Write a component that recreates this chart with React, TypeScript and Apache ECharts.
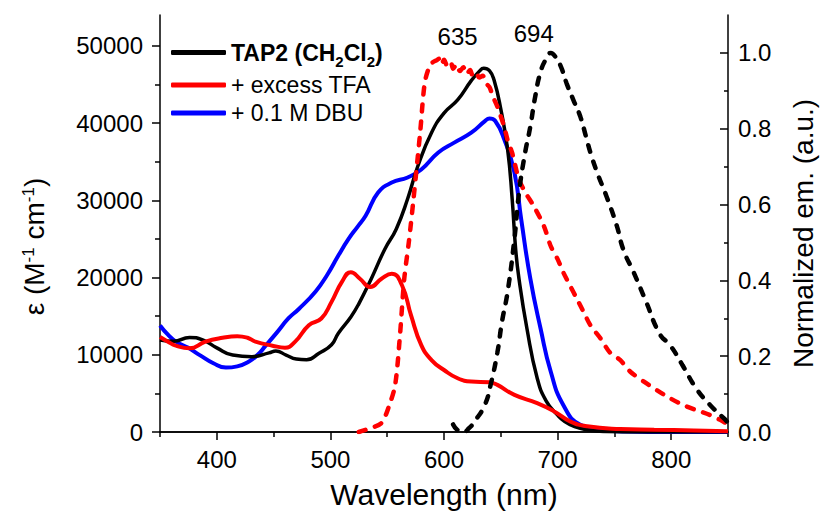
import React, { useEffect, useRef } from 'react';
import * as echarts from 'echarts';

// ---- tick values ----
const xTickLabels = [400, 500, 600, 700, 800];
const xMinorTicks = [350, 450, 550, 650, 750, 850];
const leftTickLabels = [0, 10000, 20000, 30000, 40000, 50000];
const leftMinorTicks = [5000, 15000, 25000, 35000, 45000];
const rightTickLabels = [0, 0.2, 0.4, 0.6, 0.8, 1.0];
const rightMinorTicks = [0.1, 0.3, 0.5, 0.7, 0.9];

// ---- absorption: TAP2 (CH2Cl2) ----
const tap2Wl = [350, 362, 376, 388, 400, 414, 431, 446, 452, 461, 470, 479, 490, 501, 507, 518, 525, 536, 548, 558, 568, 577, 589, 600, 612, 624, 631, 635, 640, 644, 650, 656, 660, 663, 666, 673, 682, 690, 700, 706, 715, 726, 740, 760, 850];
const tap2Eps = [11900, 11750, 12250, 11900, 10900, 9960, 9760, 10250, 10480, 9960, 9450, 9350, 10200, 11300, 12800, 14900, 16600, 19850, 23700, 26300, 30200, 34450, 38760, 41300, 43000, 45500, 46700, 47100, 46800, 45600, 41800, 36600, 30200, 23800, 19850, 13400, 7000, 4000, 2200, 1400, 700, 300, 50, 0, 0];

// ---- absorption: + excess TFA ----
const tfaWl = [350, 357, 364, 376, 390, 405, 418, 427, 434, 449, 460, 469, 481, 492, 501, 510, 518, 526, 535, 545, 554, 563, 571, 580, 589, 600, 612, 624, 640, 647, 662, 682, 697, 711, 726, 755, 785, 820, 850];
const tfaEps = [12300, 11700, 11180, 10830, 11700, 12200, 12400, 12200, 11700, 11180, 10920, 11700, 13830, 14700, 16850, 19400, 20700, 19850, 18780, 19850, 20500, 19000, 15100, 11250, 9320, 8030, 6960, 6530, 6450, 6100, 4800, 3740, 2670, 1380, 735, 390, 300, 200, 100];

// ---- absorption: + 0.1 M DBU ----
const dbuWl = [350, 357, 364, 375, 385, 397, 408, 418, 428, 436, 443, 453, 463, 472, 487, 497, 507, 516, 524, 531, 542, 554, 568, 580, 595, 609, 624, 636, 640, 645, 653, 662, 668, 676, 685, 694, 705, 720, 740, 760, 780, 850];
const dbuEps = [13800, 12600, 11700, 10900, 9960, 8900, 8340, 8500, 9100, 10000, 11180, 12900, 14700, 15900, 18200, 20300, 22850, 25000, 26600, 28000, 31000, 32300, 32960, 34000, 36200, 37470, 38760, 40260, 40600, 40300, 37900, 33600, 27500, 19850, 13400, 7800, 3500, 940, 300, 50, 0, 0];

// ---- normalized emission: TAP2 (dashed black) ----
const tap2EmWl = [608, 612, 617, 622, 627, 636, 641, 647, 651, 656, 662, 666, 671, 676, 680, 685, 690, 694, 698, 703, 708, 714, 720, 725, 729, 735, 743, 752, 758, 767, 778, 790, 799, 810, 822, 834, 846, 850];
const tap2Em = [0.02, 0.005, 0.0, 0.01, 0.028, 0.072, 0.124, 0.21, 0.29, 0.37, 0.51, 0.63, 0.73, 0.806, 0.88, 0.95, 0.985, 1.0, 0.99, 0.963, 0.919, 0.875, 0.832, 0.779, 0.736, 0.683, 0.622, 0.545, 0.48, 0.421, 0.343, 0.258, 0.229, 0.176, 0.115, 0.072, 0.037, 0.025];

// ---- normalized emission: + excess TFA (dashed red) ----
const tfaEmWl = [525, 535, 545, 552, 557, 561, 565, 569, 573, 579, 583, 587, 590, 593, 596, 598, 600, 603, 606, 608, 611, 614, 617, 620, 623, 625, 628, 631, 634, 637, 640, 643, 647, 653, 656, 660, 666, 672, 679, 688, 694, 700, 705, 711, 717, 723, 729, 738, 746, 755, 764, 776, 787, 799, 810, 822, 834, 843, 850];
const tfaEm = [0.0, 0.01, 0.024, 0.072, 0.124, 0.246, 0.404, 0.5, 0.61, 0.79, 0.92, 0.963, 0.975, 0.98, 0.985, 0.97, 0.982, 0.965, 0.975, 0.958, 0.97, 0.952, 0.962, 0.944, 0.955, 0.942, 0.95, 0.935, 0.94, 0.92, 0.91, 0.885, 0.858, 0.805, 0.77, 0.736, 0.666, 0.63, 0.596, 0.543, 0.49, 0.456, 0.421, 0.386, 0.351, 0.316, 0.281, 0.246, 0.21, 0.19, 0.159, 0.133, 0.111, 0.089, 0.072, 0.058, 0.045, 0.032, 0.02];

// ---- peak annotations ----
const peakLabels = ['635', '694'];
const peakLabelWl = [612, 679];
const peakLabelEps = [51200, 51600];

const legendNames = ['TAP2', '+ excess TFA', '+ 0.1 M DBU'];

const FONT = '"Liberation Sans", Arial, Helvetica, sans-serif';
const pair = (xs: number[], ys: number[]) => xs.map((x, i) => [x, ys[i]]);

export default function App() {
  const ref = useRef<HTMLDivElement>(null);

  useEffect(() => {
    document.body.style.margin = '0';
    const chart = echarts.init(ref.current!, null, { renderer: 'svg' });
    const axisLine = { show: true, lineStyle: { color: '#000', width: 1.5 } };
    const baseText = { color: '#000', fontFamily: FONT };

    const option: any = {
      animation: false,
      backgroundColor: '#fff',
      grid: { left: 160, right: 93, top: 15, bottom: 80, containLabel: false },
      legend: {
        data: legendNames,
        orient: 'vertical',
        left: 166,
        top: 36,
        itemWidth: 55,
        itemHeight: 5,
        itemGap: 5,
        icon: 'roundRect',
        selectedMode: false,
        formatter: (name: string) =>
          name === 'TAP2' ? '{b|TAP2 (CH}{s|2}{b|Cl}{s|2}{b|)}' : '{n|' + name + '}',
        textStyle: {
          ...baseText,
          fontSize: 23,
          rich: {
            b: { ...baseText, fontSize: 23, fontWeight: 'bold', lineHeight: 38 },
            s: { ...baseText, fontSize: 15, fontWeight: 'bold', padding: [17, 0, 0, 0] },
            n: { ...baseText, fontSize: 23, lineHeight: 24 },
          },
        },
      },
      xAxis: [
        {
          type: 'value', min: 350, max: 850, position: 'bottom',
          axisLine,
          axisTick: { show: true, customValues: xTickLabels, length: 8, lineStyle: { color: '#000', width: 1.5 } },
          axisLabel: { customValues: xTickLabels, ...baseText, fontSize: 24, margin: 15 },
          splitLine: { show: false },
          name: 'Wavelength (nm)', nameLocation: 'middle', nameGap: 47,
          nameTextStyle: { ...baseText, fontSize: 30 },
        },
        {
          type: 'value', min: 350, max: 850, position: 'bottom',
          axisLine: { show: false },
          axisTick: { show: true, customValues: xMinorTicks, length: 5, lineStyle: { color: '#000', width: 1.5 } },
          axisLabel: { show: false },
          splitLine: { show: false },
        },
        {
          type: 'value', min: 350, max: 850, position: 'top',
          axisLine,
          axisTick: { show: false },
          axisLabel: { show: false },
          splitLine: { show: false },
        },
      ],
      yAxis: [
        {
          type: 'value', min: 0, max: 54000, position: 'left',
          axisLine,
          axisTick: { show: true, customValues: leftTickLabels, length: 8, lineStyle: { color: '#000', width: 1.5 } },
          axisLabel: { customValues: leftTickLabels, ...baseText, fontSize: 24, margin: 17, formatter: (v: number) => String(v) },
          splitLine: { show: false },
          name: '{a|ε (M}{s|-1}{a| cm}{s|-1}{a|)}',
          nameLocation: 'middle', nameGap: 112, nameRotate: 90,
          nameTextStyle: {
            ...baseText, fontSize: 28, padding: [0, 46, 0, 0],
            rich: {
              a: { ...baseText, fontSize: 28 },
              s: { ...baseText, fontSize: 17, verticalAlign: 'top' },
            },
          },
        },
        {
          type: 'value', min: 0, max: 1.1, position: 'right',
          axisLine,
          axisTick: { show: true, inside: true, customValues: rightTickLabels, length: 8, lineStyle: { color: '#000', width: 1.5 } },
          axisLabel: { customValues: rightTickLabels, ...baseText, fontSize: 24, margin: 10, formatter: (v: number) => v.toFixed(1) },
          splitLine: { show: false },
          name: 'Normalized em. (a.u.)',
          nameLocation: 'middle', nameGap: 61, nameRotate: 90,
          nameTextStyle: { ...baseText, fontSize: 28, padding: [0, 20, 0, 0] },
        },
        {
          type: 'value', min: 0, max: 54000, position: 'left',
          axisLine: { show: false },
          axisTick: { show: true, customValues: leftMinorTicks, length: 5, lineStyle: { color: '#000', width: 1.5 } },
          axisLabel: { show: false },
          splitLine: { show: false },
        },
        {
          type: 'value', min: 0, max: 1.1, position: 'right',
          axisLine: { show: false },
          axisTick: { show: true, inside: true, customValues: rightMinorTicks, length: 4, lineStyle: { color: '#000', width: 1.5 } },
          axisLabel: { show: false },
          splitLine: { show: false },
        },
      ],
      series: [
        {
          name: '+ 0.1 M DBU', type: 'line', xAxisIndex: 0, yAxisIndex: 0,
          data: pair(dbuWl, dbuEps), showSymbol: false, symbol: 'none',
          smooth: 0.5, color: '#0000ff',
          lineStyle: { color: '#0000ff', width: 4 }, z: 2,
        },
        {
          name: 'TAP2', type: 'line', xAxisIndex: 0, yAxisIndex: 0,
          data: pair(tap2Wl, tap2Eps), showSymbol: false, symbol: 'none',
          smooth: 0.5, color: '#000000',
          lineStyle: { color: '#000000', width: 3.5 }, z: 3,
        },
        {
          name: '+ excess TFA', type: 'line', xAxisIndex: 0, yAxisIndex: 0,
          data: pair(tfaWl, tfaEps), showSymbol: false, symbol: 'none',
          smooth: 0.5, color: '#ff0000',
          lineStyle: { color: '#ff0000', width: 4 }, z: 4,
        },
        {
          name: 'TFA emission', type: 'line', xAxisIndex: 0, yAxisIndex: 1,
          data: pair(tfaEmWl, tfaEm), showSymbol: false, symbol: 'none',
          smooth: 0.3, color: '#ff0000',
          lineStyle: { color: '#ff0000', width: 4.5, type: [7, 10], cap: 'round' }, z: 5,
        },
        {
          name: 'TAP2 emission', type: 'line', xAxisIndex: 0, yAxisIndex: 1,
          data: pair(tap2EmWl, tap2Em), showSymbol: false, symbol: 'none',
          smooth: 0.5, color: '#000000',
          lineStyle: { color: '#000000', width: 4.5, type: [7, 10], cap: 'round' }, z: 6,
        },
        {
          name: 'peaks', type: 'scatter', xAxisIndex: 0, yAxisIndex: 0,
          data: peakLabelWl.map((w, i) => [w, peakLabelEps[i]]),
          symbolSize: 0,
          itemStyle: { color: '#000' },
          label: {
            show: true, position: 'inside', color: '#000', fontFamily: FONT, fontSize: 24,
            textBorderWidth: 0, opacity: 1,
            formatter: (p: any) => peakLabels[p.dataIndex],
          },
          emphasis: { disabled: true },
          z: 10,
        },
      ],
    };

    chart.setOption(option);
    return () => chart.dispose();
  }, []);

  return (
    <div
      ref={ref}
      style={{ position: 'absolute', left: 0, top: 0, width: 825, height: 514 }}
    />
  );
}
